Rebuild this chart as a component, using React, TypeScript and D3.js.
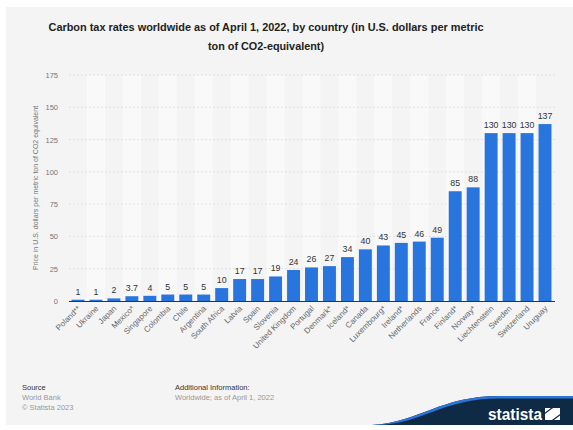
import React from "react";
import * as d3 from "d3";

const categories = [
  "Poland**", "Ukraine", "Japan", "Mexico*", "Singapore", "Colombia", "Chile", "Argentina",
  "South Africa", "Latvia", "Spain", "Slovenia", "United Kingdom", "Portugal", "Denmark*",
  "Iceland*", "Canada", "Luxembourg*", "Ireland*", "Netherlands", "France", "Finland*",
  "Norway*", "Liechtenstein", "Sweden", "Switzerland", "Uruguay",
];
const values = [1, 1, 2, 3.7, 4, 5, 5, 5, 10, 17, 17, 19, 24, 26, 27, 34, 40, 43, 45, 46, 49, 85, 88, 130, 130, 130, 137];
const yTicks = [0, 25, 50, 75, 100, 125, 150, 175];

const titleLines = [
  "Carbon tax rates worldwide as of April 1, 2022, by country (in U.S. dollars per metric",
  "ton of CO2-equivalent)",
];
const titleWidths = [435, 116];
const yTitle = "Price in U.S. dollars per metric ton of CO2 equivalent";

export default function App() {
  const W = 573, H = 430;
  const x = d3.scaleBand<string>().domain(categories).range([69, 554]).paddingInner(0.28).paddingOuter(0.14);
  const y = d3.scaleLinear().domain([0, 175]).range([301, 75]);
  const step = x.step();
  const font = "'Liberation Sans', Arial, Helvetica, sans-serif";
  const swoosh = "M 372 425 C 420 422, 440 396, 500 396 L 573 396 L 573 425 Z";
  const swooshEdge = "M 372 425 C 420 422, 440 396, 500 396 L 573 396 L 573 398.5 L 500 398.5 C 442 398.5, 422 424, 378 425 Z";
  return (
    <svg width={W} height={H} style={{ position: "absolute", left: 0, top: 0 }} fontFamily={font}>
      <rect x={0} y={0} width={W} height={H} fill="#ffffff" />
      <rect x={6} y={7} width={W - 6} height={418} fill="#f4f4f4" />
      {titleLines.map((t, i) => (
        <text key={i} x={266} y={31 + i * 19} textAnchor="middle" fontSize={11.5} fontWeight="bold" fill="#222"
          textLength={titleWidths[i]} lengthAdjust="spacingAndGlyphs">
          {t}
        </text>
      ))}
      {categories.map((c, i) =>
        i % 2 === 1 ? (
          <rect key={c} x={(x(c) as number) - (step - x.bandwidth()) / 2} y={y(175)} width={step} height={y(0) - y(175)} fill="#f9f9f9" />
        ) : null
      )}
      {yTicks.filter((t) => t > 0).map((t) => (
        <line key={t} x1={69} x2={555} y1={y(t)} y2={y(t)} stroke="#dcdcdc" strokeWidth={0.8} strokeDasharray="2,2" />
      ))}
      {yTicks.map((t) => (
        <text key={t} x={58} y={y(t) + 3} textAnchor="end" fontSize={7.5} fill="#777">
          {t}
        </text>
      ))}
      <text transform={`translate(38,188) rotate(-90)`} textAnchor="middle" fontSize={7} fill="#777">
        {yTitle}
      </text>
      {categories.map((c, i) => (
        <rect key={c} x={x(c)} y={y(values[i])} width={x.bandwidth()} height={y(0) - y(values[i])} fill="#2876dd" />
      ))}
      {categories.map((c, i) => (
        <text key={c} x={(x(c) as number) + x.bandwidth() / 2} y={y(values[i]) - 5} textAnchor="middle" fontSize={8.8} fill="#333">
          {values[i]}
        </text>
      ))}
      <line x1={69} x2={555} y1={y(0) + 0.5} y2={y(0) + 0.5} stroke="#333" strokeWidth={1.2} />
      {categories.map((c) => (
        <text
          key={c}
          transform={`translate(${(x(c) as number) + x.bandwidth() / 2 + 3},${y(0) + 8}) rotate(-45)`}
          textAnchor="end"
          fontSize={8}
          fill="#666"
        >
          {c}
        </text>
      ))}
      <text x={22} y={390} fontSize={7.5} fill="#333">Source</text>
      <text x={22} y={400} fontSize={7.5} fill="#999">World Bank</text>
      <text x={22} y={410} fontSize={7.5} fill="#999">© Statista 2023</text>
      <text x={175} y={390} fontSize={7.5} fill="#333">Additional Information:</text>
      <text x={175} y={400} fontSize={7.5} fill="#999">Worldwide; as of April 1, 2022</text>
      <path d={swoosh} fill="#0f2a44" />
      <path d={swooshEdge} fill="#2b74d8" />
      <text x={488} y={420} fontSize={16} fontWeight="bold" fill="#ffffff" textLength={54} lengthAdjust="spacingAndGlyphs">
        statista
      </text>
      <path d="M 545 420 L 545 414 L 553 408 L 560 408 L 560 414 L 552 420 Z" fill="#ffffff" />
      <path d="M 545 408 L 551 408 L 545 412.5 Z" fill="#ffffff" />
      <path d="M 560 420 L 554 420 L 560 415.5 Z" fill="#ffffff" />
    </svg>
  );
}
